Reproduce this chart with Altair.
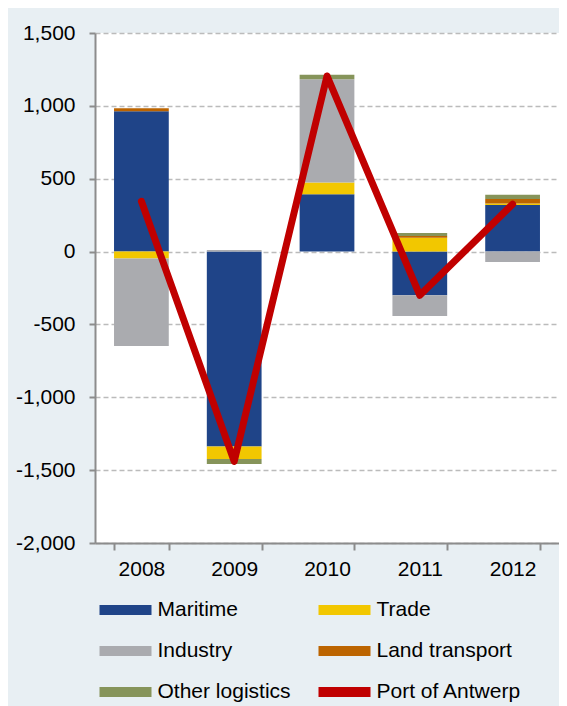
import altair as alt
import pandas as pd

# ---- data ----
years = ["2008", "2009", "2010", "2011", "2012"]
sectors = ["Maritime", "Trade", "Industry", "Land transport", "Other logistics"]
maritime = [963, -1337, 394, -300, 319]
trade = [-48, -86, 80, 95, 11]
industry = [-600, 10, 709, -142, -71]
land_transport = [20, 0, 0, 12, 30]
other_logistics = [0, -35, 30, 20, 30]
port_of_antwerp = [345, -1440, 1205, -300, 325]

series_names = sectors + ["Port of Antwerp"]
series_colors = ["#1F4488", "#F2C700", "#AAABAF", "#BC6400", "#86945A", "#C00000"]
y_ticks = [-2000, -1500, -1000, -500, 0, 500, 1000, 1500]

sector_values = [maritime, trade, industry, land_transport, other_logistics]
rows = []
for si, (name, vals) in enumerate(zip(sectors, sector_values)):
    for yr, v in zip(years, vals):
        rows.append({"year": yr, "sector": name, "value": v, "idx": si})
bar_df = pd.DataFrame(rows)
line_df = pd.DataFrame({"year": years, "value": port_of_antwerp})

FONT = "Liberation Sans"
AXIS_GRAY = "#8C8C8C"

x_enc = alt.X(
    "year:N",
    sort=years,
    scale=alt.Scale(paddingInner=0.41, paddingOuter=0.205),
    axis=alt.Axis(
        title=None, labelAngle=0, labelFont=FONT, labelFontSize=21, labelColor="black",
        labelPadding=8, tickSize=7, tickWidth=2, tickColor=AXIS_GRAY, tickBand="extent",
        domainColor=AXIS_GRAY, domainWidth=2, grid=False,
    ),
)
y_axis = alt.Axis(
    title=None, values=y_ticks,
    labelExpr="datum.value < 0 ? '-' + format(-datum.value, ',') : format(datum.value, ',')",
    labelFont=FONT, labelFontSize=21, labelColor="black", labelPadding=14,
    tickSize=6, tickWidth=2, tickColor=AXIS_GRAY,
    domainColor=AXIS_GRAY, domainWidth=2,
    grid=True, gridColor="#BBBBBB", gridDash=[5, 3], gridWidth=1.5,
)
y_scale = alt.Scale(domain=[-2000, 1500], nice=False, zero=False)

bars = alt.Chart(bar_df).mark_bar().encode(
    x=x_enc,
    y=alt.Y("value:Q", stack="zero", scale=y_scale, axis=y_axis),
    color=alt.Color(
        "sector:N",
        scale=alt.Scale(domain=series_names, range=series_colors),
        legend=alt.Legend(
            title=None, orient="none", legendX=4.5, legendY=551, columns=2,
            direction="horizontal",
            columnPadding=27, rowPadding=5, padding=0,
            symbolType="M-1,-0.19H1V0.19H-1Z", symbolSize=2704, symbolStrokeWidth=0,
            symbolOpacity=1, labelFont=FONT, labelFontSize=21, labelColor="black",
            labelOffset=6, labelLimit=300,
        ),
    ),
    order=alt.Order("idx:Q"),
)

line = alt.Chart(line_df).mark_line(
    color="#C00000", strokeWidth=7, strokeCap="round", strokeJoin="round"
).encode(
    x=alt.X("year:N", sort=years),
    y=alt.Y("value:Q", scale=y_scale, axis=y_axis),
)

chart = alt.layer(bars, line).properties(
    width=464, height=510,
    autosize=alt.AutoSizeParams(type="none"),
    padding={"left": 87, "top": 25, "right": 0, "bottom": 163},
    background="#E8EFF3",
).configure_view(fill="white", stroke=None)

chart.save("out.html", embed_options={"renderer": "svg", "actions": False})
